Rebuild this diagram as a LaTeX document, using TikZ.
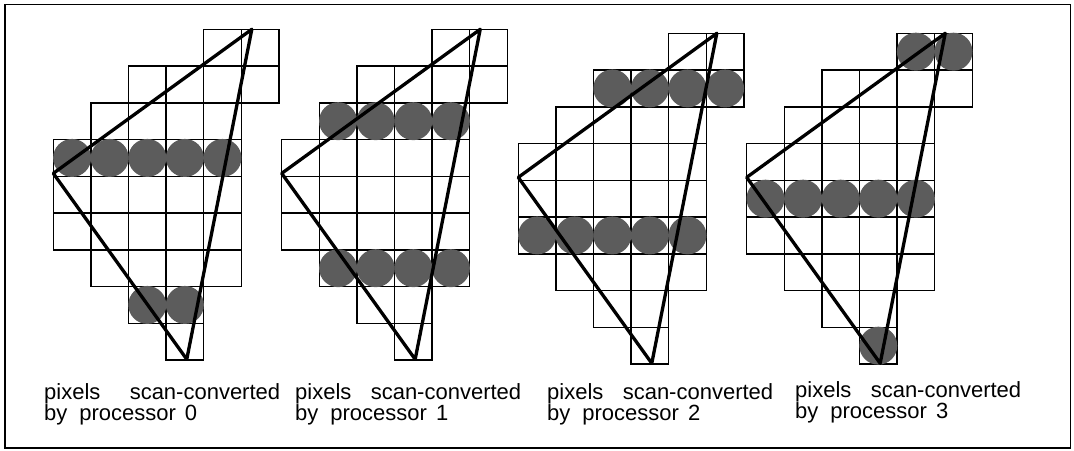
\documentclass[tikz,border=0pt]{standalone}
\usepackage{fontspec}
\setmainfont{Liberation Sans}
\begin{document}
\begin{tikzpicture}[x=1pt,y=-1pt,
  cell/.style={draw=black,line width=1.4pt,line cap=rect},
  pix/.style={fill=black!64},
  tri/.style={draw=black,line width=3.3pt,line join=round},
  frame/.style={draw=black,line width=1.4pt},
  caption/.style={anchor=base west,inner sep=0pt,align=left,
    font=\fontsize{22}{20.5}\selectfont}]
\useasboundingbox (0,0) rectangle (1074,450);
\draw[frame] (5,4.5) rectangle (1070.5,448);
% panels: index/x0/y0/filled cells
\foreach \p/\xo/\yo/\cells in {
  0/53.3/29.3/{3/0,3/1,3/2,3/3,3/4,7/2,7/3},
  1/281.7/29.3/{2/1,2/2,2/3,2/4,6/1,6/2,6/3,6/4},
  2/518.3/33.3/{1/2,1/3,1/4,1/5,5/0,5/1,5/2,5/3,5/4},
  3/746.7/33.3/{0/4,0/5,4/0,4/1,4/2,4/3,4/4,8/3}}{
  \begin{scope}[shift={(\xo pt,-\yo pt)},x=37.6pt,y=-36.75pt]
    % horizontal grid lines y / from / to
    \foreach \y/\u/\v in {0/4/6,1/2/6,2/1/6,3/0/5,4/0/5,5/0/5,6/0/5,7/1/5,8/2/4,9/3/4}{
      \draw[cell] (\u,\y) -- (\v,\y);
    }
    % vertical grid lines x / from / to
    \foreach \x/\u/\v in {0/3/6,1/2/7,2/1/8,3/1/9,4/0/9,5/0/7,6/0/2}{
      \draw[cell] (\x,\u) -- (\x,\v);
    }
    \foreach \r/\c in \cells{
      \path[pix] (\c+0.5,\r+0.5) circle[radius=19pt];
    }
    \coordinate (top\p) at (5.28,0);
    \coordinate (left\p) at (0,3.92);
    \coordinate (bot\p) at (3.55,8.98);
    \draw[tri] (top\p) -- (left\p) -- (bot\p) -- cycle;
  \end{scope}
}
\node[caption,text width=236pt] (cap0) at (44,399) {pixels\hfill scan-converted\\by\hspace{12pt}processor\hspace{9pt}0};
\node[caption,text width=226pt] (cap1) at (295,399) {pixels\hfill scan-converted\\by\hspace{12pt}processor\hspace{9pt}1};
\node[caption,text width=226pt] (cap2) at (547,399) {pixels\hfill scan-converted\\by\hspace{12pt}processor\hspace{9pt}2};
\node[caption,text width=226pt] (cap3) at (795,397) {pixels\hfill scan-converted\\by\hspace{12pt}processor\hspace{9pt}3};
\end{tikzpicture}
\end{document}
